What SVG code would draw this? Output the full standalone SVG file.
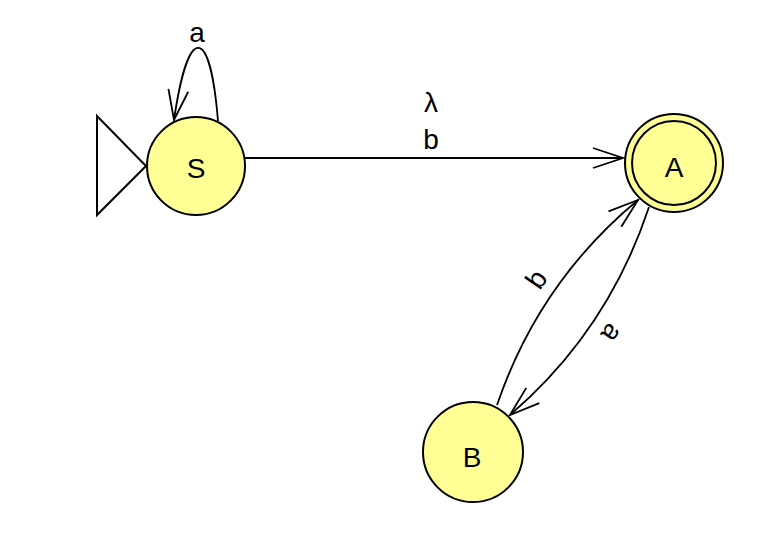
<svg xmlns="http://www.w3.org/2000/svg" width="760" height="536" viewBox="0 0 760 536">
<style>
.state{fill:#ffff96;stroke:#000;stroke-width:2}
.ring{fill:none;stroke:#000;stroke-width:2}
.edge{fill:none;stroke:#000;stroke-width:1.8}
.lbl{font-family:"Liberation Sans",Arial,sans-serif;font-size:28px;fill:#000;text-anchor:middle}
</style>
<defs>
<marker id="arr" markerUnits="userSpaceOnUse" orient="auto" refX="0" refY="0" markerWidth="40" markerHeight="30" viewBox="-35 -15 40 30" overflow="visible">
<path d="M-30,-10 L0,0 L-30,10" fill="none" stroke="#000" stroke-width="1.8"/>
</marker>
</defs>
<rect width="760" height="536" fill="#fff"/>
<g id="connectors">
<path class="edge" d="M218,121 C210,23.7 188,23.7 174,120" marker-end="url(#arr)"/>
<path class="edge" d="M245,158 L623,158" marker-end="url(#arr)"/>
<path class="edge" d="M497,405 Q539,282 638,200" marker-end="url(#arr)"/>
<path class="edge" d="M649,207 Q608,331 510,415" marker-end="url(#arr)"/>
<text class="lbl" x="197" y="42">a</text>
<text class="lbl" x="431" y="112">λ</text>
<text class="lbl" x="431" y="149">b</text>
<text class="lbl" transform="translate(536,279) rotate(-55.2)" y="10">b</text>
<text class="lbl" transform="translate(610,332) rotate(124.8)" y="7">a</text>
</g>
<g id="start">
<polygon points="97,116 146,166 97,215" fill="#fff" stroke="#000" stroke-width="2"/>
</g>
<g id="S">
<circle class="state" cx="196" cy="166" r="49"/>
<text class="lbl" x="196" y="178">S</text>
</g>
<g id="A">
<circle class="state" cx="674" cy="163" r="49"/>
<circle class="ring" cx="674" cy="163" r="42"/>
<text class="lbl" x="674" y="177">A</text>
</g>
<g id="B">
<circle class="state" cx="473" cy="452" r="50"/>
<text class="lbl" x="472" y="467">B</text>
</g>
</svg>
